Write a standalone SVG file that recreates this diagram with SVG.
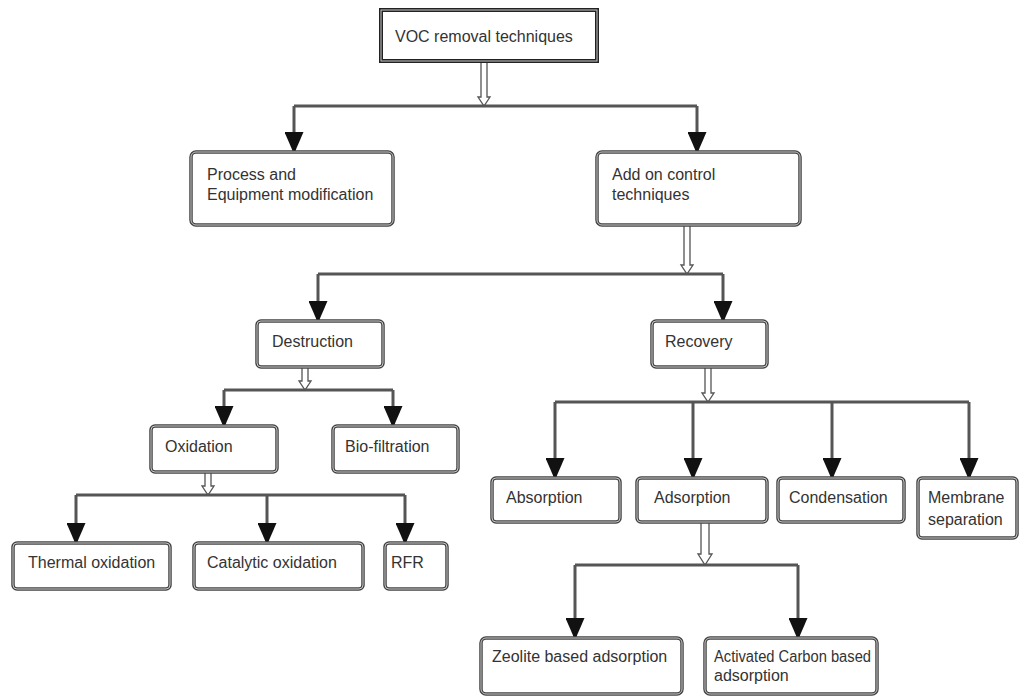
<svg xmlns="http://www.w3.org/2000/svg" width="1020" height="696" viewBox="0 0 1020 696">
<style>
text{font-family:"Liberation Sans",Arial,sans-serif;font-size:16px;fill:#333}
.box{fill:#fff;stroke:#444;stroke-width:3.5}
.inner{fill:none;stroke:#c8c8c8;stroke-width:1}
.line{fill:none;stroke:#555;stroke-width:3}
.hol{fill:#fff;stroke:#555;stroke-width:1.3;stroke-linejoin:miter}
</style>
<defs>
<marker id="ah" markerUnits="userSpaceOnUse" markerWidth="22" markerHeight="19" refX="20" refY="9.5" orient="auto">
<path d="M0,0 L22,9.5 L0,19 Z" fill="#111"/>
</marker>
</defs>
<rect width="1020" height="696" fill="#fff"/>
<g id="connectors">
<path class="hol" d="M481,61 L481,97 L478,97 L484,106 L490,97 L487,97 L487,61"/>
<path class="line" d="M294,106 L697,106"/>
<path class="line" d="M294,106 L294,152" marker-end="url(#ah)"/>
<path class="line" d="M697,106 L697,152" marker-end="url(#ah)"/>
<path class="hol" d="M684,225 L684,265 L681,265 L687,274 L693,265 L690,265 L690,225"/>
<path class="line" d="M318,274 L723,274"/>
<path class="line" d="M318,274 L318,321" marker-end="url(#ah)"/>
<path class="line" d="M723,274 L723,321" marker-end="url(#ah)"/>
<path class="hol" d="M302,367 L302,381 L299,381 L305,390 L311,381 L308,381 L308,367"/>
<path class="line" d="M224,390 L393,390"/>
<path class="line" d="M224,390 L224,426" marker-end="url(#ah)"/>
<path class="line" d="M393,390 L393,426" marker-end="url(#ah)"/>
<path class="hol" d="M205,472 L205,486 L202,486 L208,495 L214,486 L211,486 L211,472"/>
<path class="line" d="M76,495 L405,495"/>
<path class="line" d="M76,495 L76,543" marker-end="url(#ah)"/>
<path class="line" d="M267,495 L267,543" marker-end="url(#ah)"/>
<path class="line" d="M405,495 L405,543" marker-end="url(#ah)"/>
<path class="hol" d="M705,367 L705,393 L702,393 L708,402 L714,393 L711,393 L711,367"/>
<path class="line" d="M555,402 L969,402"/>
<path class="line" d="M555,402 L555,478" marker-end="url(#ah)"/>
<path class="line" d="M693,402 L693,478" marker-end="url(#ah)"/>
<path class="line" d="M832,402 L832,478" marker-end="url(#ah)"/>
<path class="line" d="M969,402 L969,478" marker-end="url(#ah)"/>
<path class="hol" d="M701,522 L701,554 L698,554 L705,565 L712,554 L709,554 L709,522"/>
<path class="line" d="M575,565 L798,565"/>
<path class="line" d="M575,565 L575,638" marker-end="url(#ah)"/>
<path class="line" d="M798,565 L798,638" marker-end="url(#ah)"/>
</g>
<g id="voc">
<rect x="381" y="10" width="216" height="51" fill="#fff" stroke="#222" stroke-width="4"/>
<rect x="381" y="10" width="216" height="51" class="inner"/>
<text x="395" y="42">VOC removal techniques</text>
</g>
<g id="process">
<rect class="box" x="191" y="152" width="202" height="73" rx="5"/>
<rect class="inner" x="191" y="152" width="202" height="73" rx="5"/>
<text x="207" y="180">Process and</text>
<text x="207" y="200">Equipment modification</text>
</g>
<g id="addon">
<rect class="box" x="597" y="152" width="203" height="73" rx="5"/>
<rect class="inner" x="597" y="152" width="203" height="73" rx="5"/>
<text x="612" y="180">Add on control</text>
<text x="612" y="200">techniques</text>
</g>
<g id="destruction">
<rect class="box" x="257" y="321" width="126" height="46" rx="4"/>
<rect class="inner" x="257" y="321" width="126" height="46" rx="4"/>
<text x="272" y="347">Destruction</text>
</g>
<g id="recovery">
<rect class="box" x="652" y="321" width="115" height="46" rx="4"/>
<rect class="inner" x="652" y="321" width="115" height="46" rx="4"/>
<text x="665" y="347">Recovery</text>
</g>
<g id="oxidation">
<rect class="box" x="151" y="426" width="126" height="46" rx="4"/>
<rect class="inner" x="151" y="426" width="126" height="46" rx="4"/>
<text x="165" y="452">Oxidation</text>
</g>
<g id="biofiltration">
<rect class="box" x="333" y="426" width="125" height="46" rx="4"/>
<rect class="inner" x="333" y="426" width="125" height="46" rx="4"/>
<text x="345" y="452">Bio-filtration</text>
</g>
<g id="thermal">
<rect class="box" x="13" y="543" width="157" height="46" rx="4"/>
<rect class="inner" x="13" y="543" width="157" height="46" rx="4"/>
<text x="28" y="568">Thermal oxidation</text>
</g>
<g id="catalytic">
<rect class="box" x="194" y="543" width="169" height="46" rx="4"/>
<rect class="inner" x="194" y="543" width="169" height="46" rx="4"/>
<text x="207" y="568">Catalytic oxidation</text>
</g>
<g id="rfr">
<rect class="box" x="385" y="543" width="62" height="46" rx="4"/>
<rect class="inner" x="385" y="543" width="62" height="46" rx="4"/>
<text x="391" y="568">RFR</text>
</g>
<g id="absorption">
<rect class="box" x="492" y="478" width="128" height="44" rx="4"/>
<rect class="inner" x="492" y="478" width="128" height="44" rx="4"/>
<text x="506" y="503">Absorption</text>
</g>
<g id="adsorption">
<rect class="box" x="637" y="478" width="130" height="44" rx="4"/>
<rect class="inner" x="637" y="478" width="130" height="44" rx="4"/>
<text x="654" y="503">Adsorption</text>
</g>
<g id="condensation">
<rect class="box" x="778" y="478" width="126" height="44" rx="4"/>
<rect class="inner" x="778" y="478" width="126" height="44" rx="4"/>
<text x="789" y="503">Condensation</text>
</g>
<g id="membrane">
<rect class="box" x="918" y="478" width="99" height="60" rx="4"/>
<rect class="inner" x="918" y="478" width="99" height="60" rx="4"/>
<text x="928" y="503">Membrane</text>
<text x="928" y="525">separation</text>
</g>
<g id="zeolite">
<rect class="box" x="481" y="638" width="201" height="56" rx="5"/>
<rect class="inner" x="481" y="638" width="201" height="56" rx="5"/>
<text x="492" y="662">Zeolite based adsorption</text>
</g>
<g id="activated">
<rect class="box" x="705" y="638" width="172" height="56" rx="5"/>
<rect class="inner" x="705" y="638" width="172" height="56" rx="5"/>
<text x="714" y="662" textLength="157" lengthAdjust="spacingAndGlyphs">Activated Carbon based</text>
<text x="714" y="681">adsorption</text>
</g>
</svg>
